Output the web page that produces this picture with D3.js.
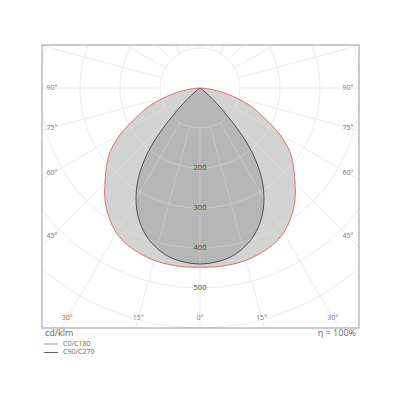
<!DOCTYPE html>
<html>
<head>
<meta charset="utf-8">
<script src="https://cdn.jsdelivr.net/npm/d3@7"></script>
<style>
  html, body { margin: 0; padding: 0; background: #fff; }
  svg { display: block; font-family: "Open Sans", "DejaVu Sans", sans-serif; }
  .grid { fill: none; stroke: #e8e8e8; stroke-width: 1; }
  .grid-over { fill: none; stroke: #fff; stroke-opacity: 0.22; stroke-width: 1; }
  .ang-label { font-size: 7px; fill: #777; }
  .int-label { font-size: 7.5px; fill: #444; }
  .legend-text { font-size: 7px; fill: #666; }
  .unit-text { font-size: 9px; fill: #666; }
</style>
</head>
<body>
<svg id="chart" width="400" height="400"></svg>
<script>
  // polar angles (deg from nadir) and intensities in cd/klm
  const angles = [0, 5, 10, 15, 20, 25, 30, 35, 40, 45, 50, 55, 60, 65, 70, 75, 80, 85, 90];
  const c0c180 = [448, 449, 448, 446, 440, 432, 418, 396, 369, 336, 305, 273, 228, 178, 138, 93, 50, 18, 0];
  const c90c270 = [440, 437, 430, 415, 393, 362, 320, 265, 190, 90, 30, 5, 0, 0, 0, 0, 0, 0, 0];

  const seriesNames = ['C0/C180', 'C90/C270'];
  const gridValues = [100, 200, 300, 400, 500, 600, 700, 800];
  const ringLabels = [200, 300, 400, 500];
  const gridAngles = d3.range(0, 360, 15);
  const sideAngles = [90, 75, 60, 45];
  const bottomAngles = [30, 15, 0];

  const FRAME = { x0: 42, y0: 45, x1: 359, y1: 328 };
  const CX = 200, CY = 88;
  const LABEL_INSET = { x: 148, y: 230 };

  const svg = d3.select('#chart');
  const r = d3.scaleLinear().domain([0, 100]).range([0, 40]);
  const rad = d => d * Math.PI / 180;

  svg.append('defs').append('clipPath').attr('id', 'frameClip')
    .append('rect')
    .attr('x', FRAME.x0).attr('y', FRAME.y0)
    .attr('width', FRAME.x1 - FRAME.x0).attr('height', FRAME.y1 - FRAME.y0);

  const plot = svg.append('g').attr('clip-path', 'url(#frameClip)');
  const g = plot.append('g').attr('transform', `translate(${CX},${CY})`);

  // closed outline: right half from 90 down to 0, then left half up to 90
  function outlinePoints(vals) {
    const pts = [];
    for (let i = angles.length - 1; i >= 0; i--) pts.push([Math.PI - rad(angles[i]), r(vals[i])]);
    for (let i = 1; i < angles.length; i++) pts.push([Math.PI + rad(angles[i]), r(vals[i])]);
    // collapse repeated centre points
    return pts.filter((p, i) => !(p[1] === 0 && i > 0 && pts[i - 1][1] === 0));
  }

  const radial = d3.lineRadial()
    .angle(d => d[0])
    .radius(d => d[1])
    .curve(d3.curveCatmullRomClosed.alpha(0.5));

  const series = [
    { name: seriesNames[0], vals: c0c180, stroke: '#d9534f', fill: '#d3d3d3' },
    { name: seriesNames[1], vals: c90c270, stroke: '#333', fill: 'rgba(128,128,128,0.35)' }
  ];

  function drawGrid(cls) {
    g.append('g').selectAll('circle')
      .data(gridValues)
      .join('circle')
      .attr('class', cls)
      .attr('r', d => r(d));

    g.append('g').selectAll('line')
      .data(gridAngles)
      .join('line')
      .attr('class', cls)
      .attr('x1', d => r(100) * Math.sin(rad(d)))
      .attr('y1', d => r(100) * Math.cos(rad(d)))
      .attr('x2', d => r(900) * Math.sin(rad(d)))
      .attr('y2', d => r(900) * Math.cos(rad(d)));
  }

  drawGrid('grid');

  g.append('g').selectAll('path')
    .data(series)
    .join('path')
    .attr('d', d => radial(outlinePoints(d.vals)))
    .attr('fill', d => d.fill)
    .attr('stroke', 'none');

  drawGrid('grid-over');

  g.append('g').selectAll('path')
    .data(series)
    .join('path')
    .attr('d', d => radial(outlinePoints(d.vals)))
    .attr('fill', 'none')
    .attr('stroke', d => d.stroke)
    .attr('stroke-width', 0.8);

  g.selectAll('text.int-label')
    .data(ringLabels)
    .join('text')
    .attr('class', 'int-label')
    .attr('x', 0)
    .attr('y', d => r(d))
    .attr('text-anchor', 'middle')
    .attr('dominant-baseline', 'middle')
    .text(d => d);

  // angle labels where each ray meets the inset box
  function labelPos(a, side) {
    const s = Math.sin(rad(a)), c = Math.cos(rad(a));
    const t = Math.min(s > 1e-6 ? LABEL_INSET.x / s : Infinity, c > 1e-6 ? LABEL_INSET.y / c : Infinity);
    return [side * t * s, t * c];
  }
  const angLabels = [];
  sideAngles.concat(bottomAngles).forEach(a => {
    angLabels.push({ a, side: -1 });
    if (a !== 0) angLabels.push({ a, side: 1 });
  });

  svg.selectAll('text.ang-label')
    .data(angLabels)
    .join('text')
    .attr('class', 'ang-label')
    .attr('x', d => CX + labelPos(d.a, d.side)[0])
    .attr('y', d => CY + labelPos(d.a, d.side)[1])
    .attr('text-anchor', 'middle')
    .attr('dominant-baseline', 'middle')
    .text(d => d.a + '°');

  svg.append('rect')
    .attr('x', FRAME.x0).attr('y', FRAME.y0)
    .attr('width', FRAME.x1 - FRAME.x0).attr('height', FRAME.y1 - FRAME.y0)
    .attr('fill', 'none')
    .attr('stroke', '#999')
    .attr('stroke-width', 1);

  svg.append('text')
    .attr('class', 'unit-text')
    .attr('x', FRAME.x0 + 3).attr('y', 334)
    .attr('dominant-baseline', 'middle')
    .text('cd/klm');

  svg.append('text')
    .attr('class', 'unit-text')
    .attr('x', FRAME.x1 - 3).attr('y', 334)
    .attr('text-anchor', 'end')
    .attr('dominant-baseline', 'middle')
    .text('η = 100%');

  const legend = svg.selectAll('g.legend')
    .data(series)
    .join('g')
    .attr('class', 'legend')
    .attr('transform', (d, i) => `translate(44,${344 + i * 8.5})`);

  legend.append('line')
    .attr('x1', 0).attr('x2', 14)
    .attr('stroke', d => d.stroke)
    .attr('stroke-width', 0.8);

  legend.append('text')
    .attr('class', 'legend-text')
    .attr('x', 19)
    .attr('dominant-baseline', 'middle')
    .text(d => d.name);
</script>
</body>
</html>
